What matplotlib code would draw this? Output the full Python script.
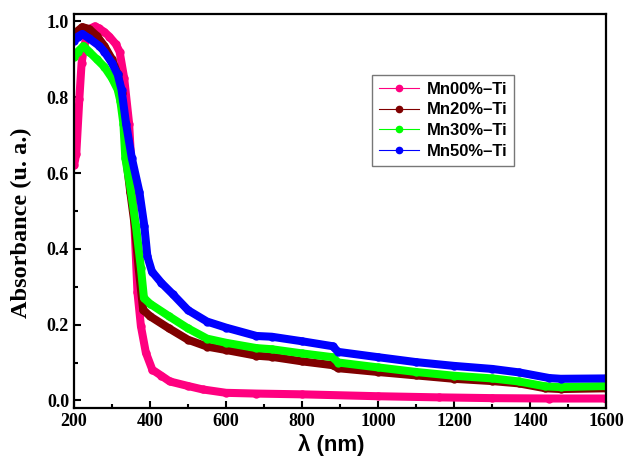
import matplotlib
matplotlib.use("Agg")
import matplotlib.pyplot as plt
from matplotlib.lines import Line2D
from matplotlib.ticker import MultipleLocator

# absorbance spectra, wavelength in nm
wl_00 = [200, 206, 214, 220, 227, 235, 245, 255, 265, 280, 293, 310, 320, 332, 345,
         355, 360, 367, 376, 389, 406, 430, 452, 500, 538, 600, 680, 800, 1000,
         1160, 1300, 1450, 1600]
abs_00 = [0.62, 0.65, 0.795, 0.89, 0.935, 0.965, 0.982, 0.987, 0.982, 0.972, 0.96, 0.94,
          0.92, 0.85, 0.73, 0.55, 0.44, 0.285, 0.196, 0.126, 0.081, 0.065, 0.05, 0.038,
          0.029, 0.02, 0.018, 0.016, 0.011, 0.008, 0.006, 0.005, 0.005]

wl_20 = [200, 210, 222, 240, 260, 280, 300, 315, 325, 332, 337, 348, 360, 370, 382,
         400, 450, 500, 550, 600, 680, 720, 800, 880, 895, 1000, 1100, 1200, 1300,
         1370, 1440, 1480, 1600]
abs_20 = [0.965, 0.975, 0.985, 0.98, 0.962, 0.935, 0.9, 0.86, 0.81, 0.73, 0.64, 0.55,
          0.46, 0.35, 0.239, 0.222, 0.19, 0.16, 0.142, 0.133, 0.118, 0.115, 0.103,
          0.093, 0.085, 0.075, 0.066, 0.057, 0.051, 0.045, 0.032, 0.03, 0.032]

wl_30 = [200, 210, 225, 240, 260, 280, 300, 315, 322, 330, 335, 350, 363, 376, 384,
         400, 450, 500, 550, 600, 680, 720, 800, 880, 895, 1000, 1100, 1200, 1300,
         1370, 1440, 1480, 1600]
abs_30 = [0.905, 0.92, 0.935, 0.92, 0.9, 0.88, 0.85, 0.82, 0.79, 0.73, 0.64, 0.55,
          0.46, 0.35, 0.27, 0.255, 0.222, 0.19, 0.163, 0.152, 0.138, 0.135, 0.124,
          0.114, 0.1, 0.087, 0.075, 0.065, 0.058, 0.05, 0.037, 0.035, 0.038]

wl_50 = [200, 210, 222, 240, 267, 280, 300, 315, 325, 337, 352, 372, 385, 393, 405,
         430, 460, 500, 550, 600, 680, 720, 800, 880, 895, 1000, 1100, 1200, 1300,
         1370, 1450, 1480, 1600]
abs_50 = [0.948, 0.96, 0.967, 0.955, 0.935, 0.92, 0.89, 0.86, 0.82, 0.73, 0.64, 0.55,
          0.46, 0.38, 0.34, 0.31, 0.28, 0.238, 0.208, 0.192, 0.17, 0.168, 0.156,
          0.143, 0.128, 0.114, 0.101, 0.091, 0.083, 0.074, 0.059, 0.057, 0.058]

labels = ["Mn00%–Ti", "Mn20%–Ti", "Mn30%–Ti", "Mn50%–Ti"]
colors = ["#ff0080", "#800000", "#00ff00", "#0000ff"]
series = [(wl_00, abs_00), (wl_20, abs_20), (wl_30, abs_30), (wl_50, abs_50)]

fig = plt.figure(figsize=(6.27, 4.61), dpi=100)
ax = fig.add_axes([0.118, 0.115, 0.849, 0.855])

for (x, y), c in zip(series, colors):
    ax.plot(x, y, color=c, lw=5.8, solid_capstyle="round", solid_joinstyle="round",
            marker="o", ms=5, mfc=c, mec=c)

ax.set_xlim(200, 1600)
ax.set_ylim(-0.02, 1.02)
ax.xaxis.set_major_locator(MultipleLocator(200))
ax.xaxis.set_minor_locator(MultipleLocator(100))
ax.yaxis.set_major_locator(MultipleLocator(0.2))
ax.yaxis.set_minor_locator(MultipleLocator(0.1))
ax.tick_params(which="both", direction="in", width=1.5, top=False, right=False)
ax.tick_params(which="major", length=5)
ax.tick_params(which="minor", length=3)
for s in ax.spines.values():
    s.set_linewidth(1.6)

for lab in ax.get_xticklabels() + ax.get_yticklabels():
    lab.set_fontfamily("Liberation Serif")
    lab.set_fontweight("bold")
    lab.set_fontsize(13)

ax.set_xlabel("λ (nm)", fontfamily="Liberation Sans", fontweight="bold", fontsize=16)
ax.xaxis.set_label_coords(0.483, -0.065)
ax.set_ylabel("Absorbance (u. a.)", fontfamily="Liberation Serif", fontweight="bold",
              fontsize=17.5)
ax.yaxis.set_label_coords(-0.078, 0.47)

handles = [Line2D([], [], color=c, lw=0.8, marker="o", ms=4.5, mfc=c, mec=c)
           for c in colors]
leg = ax.legend(handles, labels, loc="upper left", bbox_to_anchor=(0.56, 0.845),
                borderaxespad=0,
                prop={"family": "Liberation Sans", "weight": "bold", "size": 12},
                frameon=True, fancybox=False, handlelength=2.4, handletextpad=0.5,
                labelspacing=0.35, borderpad=0.4)
leg.get_frame().set_edgecolor("#555555")
leg.get_frame().set_linewidth(1.0)

fig.savefig("out.png", dpi=100)
